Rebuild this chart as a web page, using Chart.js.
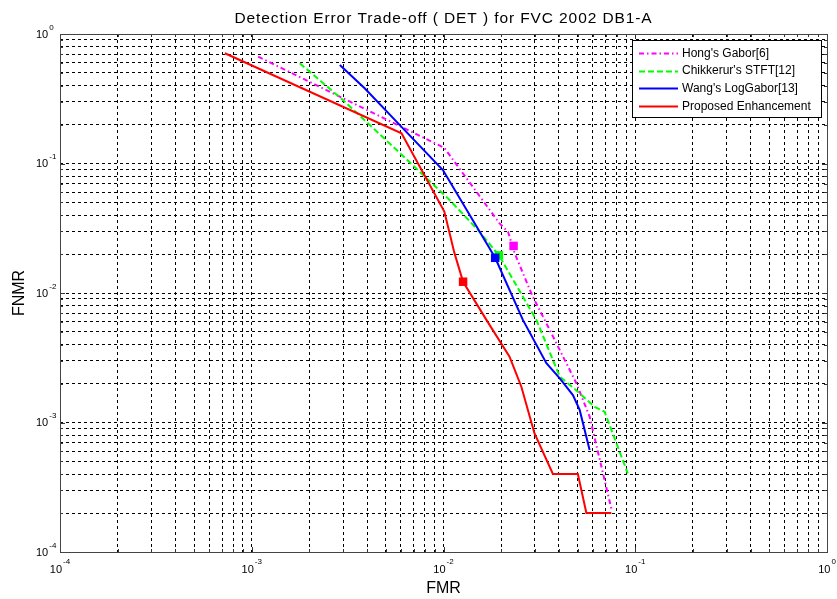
<!DOCTYPE html>
<html>
<head>
<meta charset="utf-8">
<script src="https://cdn.jsdelivr.net/npm/chart.js@4/dist/chart.umd.min.js"></script>
<style>
  html, body { margin: 0; padding: 0; background: #fff; }
  #wrap { width: 837px; height: 599px; }
</style>
</head>
<body>
<div id="wrap"><canvas id="det" width="837" height="599"></canvas></div>
<script>
// DET curves (FMR vs FNMR) for FVC 2002 DB1-A
const hongFmr  = [0.00108, 0.0101, 0.0196, 0.0217, 0.0235, 0.0292, 0.0337, 0.0493, 0.0578, 0.075];
const hongFnmr = [0.668, 0.132, 0.0345, 0.0297, 0.0203, 0.00936, 0.0062, 0.00201, 0.00111, 0.000217];

const chikFmr  = [0.00178, 0.00299, 0.00592, 0.01076, 0.01514, 0.01945, 0.0305, 0.0404, 0.0502, 0.0614, 0.0692, 0.0914];
const chikFnmr = [0.594, 0.309, 0.1205, 0.0523, 0.0306, 0.01954, 0.0062, 0.00226, 0.00173, 0.00132, 0.00121, 0.000405];

const wangFmr  = [0.00288, 0.00388, 0.00592, 0.00993, 0.0186, 0.02594, 0.0344, 0.0404, 0.0473, 0.0513, 0.0578];
const wangFnmr = [0.576, 0.381, 0.198, 0.0891, 0.0187, 0.0062, 0.00287, 0.00219, 0.00163, 0.00125, 0.000614];

const propFmr  = [0.000724, 0.00604, 0.0101, 0.0114, 0.01265, 0.01674, 0.0221, 0.02547, 0.0298, 0.0372, 0.0502, 0.0556, 0.075];
const propFnmr = [0.71, 0.171, 0.0425, 0.0204, 0.0122, 0.0062, 0.00322, 0.00189, 0.000826, 0.0004, 0.0004, 0.0002, 0.0002];

// Equal error rate points, one per method (Hong, Chikkerur, Wang, Proposed)
const eerFmr  = [0.0232, 0.01945, 0.0186, 0.01265];
const eerFnmr = [0.0231, 0.01954, 0.0187, 0.01222];

const seriesNames = ["Hong's Gabor[6]", "Chikkerur's STFT[12]", "Wang's LogGabor[13]", "Proposed Enhancement"];
const seriesColors = ['#ff00ff', '#00ff00', '#0000ff', '#ff0000'];
const seriesDash = [[5, 3, 1.5, 3], [6, 3], [], []];

const decades = [1e-4, 1e-3, 1e-2, 1e-1, 1];
const titleText = 'Detection Error Trade-off ( DET ) for FVC 2002 DB1-A';
const xTitle = 'FMR';
const yTitle = 'FNMR';

function pairs(xs, ys) { return xs.map((x, i) => ({ x: x, y: ys[i] })); }

// grid positions 1..9 x 10^n over the four decades
function logGrid() {
  const out = [];
  for (let e = -4; e < 0; e++) {
    for (let m = 1; m <= 9; m++) out.push(parseFloat((m * Math.pow(10, e)).toPrecision(3)));
  }
  out.push(1);
  return out;
}

const FONT = '"Liberation Sans", Arial, Helvetica, sans-serif';

const lineSets = [
  [hongFmr, hongFnmr], [chikFmr, chikFnmr], [wangFmr, wangFnmr], [propFmr, propFnmr]
].map((s, i) => ({
  label: seriesNames[i],
  data: pairs(s[0], s[1]),
  showLine: true,
  borderColor: seriesColors[i],
  backgroundColor: seriesColors[i],
  borderWidth: 2,
  borderDash: seriesDash[i],
  pointRadius: 0,
  tension: 0,
  order: 4 - i
}));

const eerSet = {
  label: 'EER',
  data: pairs(eerFmr, eerFnmr),
  showLine: false,
  pointStyle: 'rect',
  pointRadius: 6,
  pointBorderWidth: 0,
  backgroundColor: seriesColors,
  borderColor: seriesColors,
  order: 0
};

// frame, inner ticks, power-of-ten labels, legend, titles
const decor = {
  id: 'decor',
  afterDraw(chart) {
    const ctx = chart.ctx;
    const a = chart.chartArea;
    const xs = chart.scales.x, ys = chart.scales.y;
    ctx.save();

    // inner tick marks
    ctx.strokeStyle = '#333';
    ctx.lineWidth = 1;
    logGrid().forEach(v => {
      const major = decades.indexOf(v) >= 0;
      const len = major ? 5 : 3;
      const px = Math.round(xs.getPixelForValue(v)) + 0.5;
      const py = Math.round(ys.getPixelForValue(v)) + 0.5;
      ctx.beginPath();
      ctx.moveTo(px, a.bottom); ctx.lineTo(px, a.bottom - len);
      ctx.moveTo(px, a.top); ctx.lineTo(px, a.top + len);
      ctx.moveTo(a.left, py); ctx.lineTo(a.left + len, py);
      ctx.moveTo(a.right, py); ctx.lineTo(a.right - len, py);
      ctx.stroke();
    });

    // frame
    ctx.strokeStyle = '#444';
    ctx.strokeRect(Math.round(a.left) + 0.5, Math.round(a.top) + 0.5,
                   Math.round(a.right - a.left), Math.round(a.bottom - a.top));

    // power-of-ten labels
    ctx.fillStyle = '#000';
    ctx.textBaseline = 'alphabetic';
    const baseFont = '11px ' + FONT;
    const supFont = '8px ' + FONT;
    decades.forEach(v => {
      const exp = String(Math.round(Math.log10(v)));
      ctx.font = baseFont;
      const w10 = ctx.measureText('10').width;
      ctx.font = supFont;
      const wExp = ctx.measureText(exp).width;
      // x axis
      const px = xs.getPixelForValue(v);
      const left = px - (w10 + 1 + wExp) / 2;
      ctx.font = baseFont;
      ctx.textAlign = 'left';
      ctx.fillText('10', left, a.bottom + 21);
      ctx.font = supFont;
      ctx.fillText(exp, left + w10 + 1, a.bottom + 11.5);
      // y axis
      const py = ys.getPixelForValue(v);
      ctx.font = baseFont;
      ctx.fillText('10', 36, py + 3.5);
      ctx.font = supFont;
      ctx.fillText(exp, 36 + w10 + 1, py - 4.5);
    });

    // title and axis titles
    ctx.textAlign = 'center';
    ctx.font = '15.5px ' + FONT;
    ctx.letterSpacing = '0.9px';
    ctx.fillText(titleText, (a.left + a.right) / 2, 23);
    ctx.letterSpacing = '0px';
    ctx.font = '16px ' + FONT;
    ctx.fillText(xTitle, (a.left + a.right) / 2, 593);
    ctx.save();
    ctx.translate(24, (a.top + a.bottom) / 2);
    ctx.rotate(-Math.PI / 2);
    ctx.fillText(yTitle, 0, 0);
    ctx.restore();

    // legend
    const lx = 632.5, ly = 40.5, lw = 189, lh = 77;
    ctx.fillStyle = '#fff';
    ctx.fillRect(lx, ly, lw, lh);
    ctx.strokeStyle = '#000';
    ctx.lineWidth = 1;
    ctx.strokeRect(lx, ly, lw, lh);
    ctx.font = '12px ' + FONT;
    ctx.textAlign = 'left';
    ctx.textBaseline = 'middle';
    seriesNames.forEach((name, i) => {
      const y = ly + 12.5 + i * 17.6;
      ctx.strokeStyle = seriesColors[i];
      ctx.lineWidth = 2;
      ctx.setLineDash(seriesDash[i]);
      ctx.beginPath();
      ctx.moveTo(639, Math.round(y) + 0.5);
      ctx.lineTo(678, Math.round(y) + 0.5);
      ctx.stroke();
      ctx.setLineDash([]);
      ctx.fillStyle = '#000';
      ctx.fillText(name, 682, y + 0.5);
    });
    ctx.restore();
  }
};

function axisOpts() {
  return {
    type: 'logarithmic',
    min: 1e-4,
    max: 1,
    afterBuildTicks: (scale) => { scale.ticks = logGrid().map(v => ({ value: v })); },
    ticks: { display: false },
    grid: { color: '#000', lineWidth: 1, drawTicks: false },
    border: { display: false, dash: [3, 3] },
    title: { display: false }
  };
}

new Chart(document.getElementById('det'), {
  type: 'scatter',
  data: { datasets: lineSets.concat([eerSet]) },
  options: {
    responsive: false,
    animation: false,
    devicePixelRatio: 1,
    layout: { padding: { left: 60, top: 34, right: 10, bottom: 47 } },
    plugins: { legend: { display: false }, tooltip: { enabled: false }, title: { display: false } },
    scales: { x: axisOpts(), y: axisOpts() }
  },
  plugins: [decor]
});
</script>
</body>
</html>
